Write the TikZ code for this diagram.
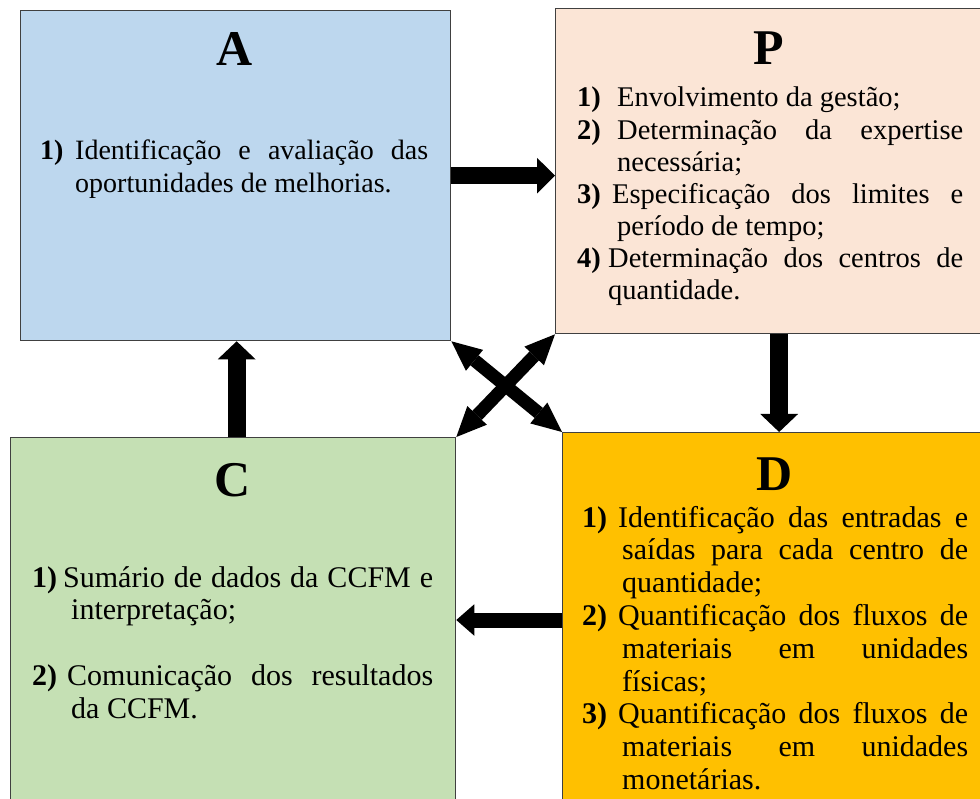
\documentclass[tikz,border=0pt]{standalone}
\usepackage{fontspec}
\setmainfont{Liberation Serif}
\usetikzlibrary{arrows.meta}

\definecolor{boxA}{HTML}{BDD7EE}
\definecolor{boxP}{HTML}{FBE5D6}
\definecolor{boxC}{HTML}{C5E0B4}
\definecolor{boxD}{HTML}{FFC000}
\definecolor{edge}{HTML}{404040}

% numbered entry: #1 hanging indent, #2 label box width, #3 label, #4 text
\newcommand\stepentry[4]{\hangindent=#1\hangafter=1\noindent\makebox[#2][l]{\textbf{#3}}#4\par}

\tikzset{
  phase/.style={draw=edge, line width=1.3pt, inner sep=0pt, anchor=north west},
  title/.style={anchor=base, font=\fontsize{50}{50}\selectfont\bfseries, inner sep=0pt},
  body/.style={anchor=base west, inner sep=0pt, align=justify},
  blockarrow/.style={line width=#1, -{Triangle[length=18pt,width=2.1*#1,line width=0pt]}},
  crossarrow/.style={line width=13pt,
    {Triangle[length=30pt,width=27pt,line width=0pt]}-{Triangle[length=30pt,width=27pt,line width=0pt]}},
}

\begin{document}
\begin{tikzpicture}[x=1pt, y=-1pt]
\useasboundingbox (0,0) rectangle (980,799);

% the four phase boxes
\node[phase, fill=boxA, minimum width=430pt, minimum height=330pt] (A) at (20,10) {};
\node[phase, fill=boxP, minimum width=435pt, minimum height=325pt] (P) at (555,8) {};
\node[phase, fill=boxC, minimum width=445pt, minimum height=380pt] (C) at (10,437) {};
\node[phase, fill=boxD, minimum width=428pt, minimum height=385pt] (D) at (562,432) {};

% titles
\node[title] (tA) at (235,66) {A};
\node[title] (tP) at (769,65) {P};
\node[title] (tC) at (233,496) {C};
\node[title] (tD) at (775,490) {D};

% box contents
\node[body, text width=388pt, font=\fontsize{28}{32.5}\selectfont] (xA) at (40,160) {%
  \stepentry{35pt}{35pt}{1)}{Identificação e avaliação das\linebreak oportunidades de melhorias.}};

\node[body, text width=386pt, font=\fontsize{28.5}{31.3}\selectfont] (xP) at (577,107) {%
  \setlength{\parskip}{1.5pt}%
  \stepentry{40pt}{40pt}{1)}{Envolvimento da gestão;}
  \stepentry{40pt}{40pt}{2)}{Determinação da expertise\linebreak necessária;}
  \stepentry{40pt}{35pt}{3)}{Especificação dos limites e\linebreak período de tempo;}
  \stepentry{31pt}{31pt}{4)}{Determinação dos centros de\linebreak quantidade.}};

\node[body, text width=401pt, font=\fontsize{30}{32.5}\selectfont] (xC) at (32,587) {%
  \stepentry{39pt}{31pt}{1)}{Sumário de dados da CCFM e\linebreak interpretação;}
  \vspace{33.5pt}
  \stepentry{39pt}{35pt}{2)}{Comunicação dos resultados\linebreak da CCFM.}};

\node[body, text width=386pt, font=\fontsize{30}{32.8}\selectfont] (xD) at (582,527) {%
  \stepentry{40pt}{36pt}{1)}{Identificação das entradas e\linebreak saídas para cada centro de\linebreak quantidade;}
  \stepentry{40pt}{36pt}{2)}{Quantificação dos fluxos de\linebreak materiais em unidades\linebreak físicas;}
  \stepentry{40pt}{36pt}{3)}{Quantificação dos fluxos de\linebreak materiais em unidades\linebreak monetárias.}};

% cycle arrows
\draw[blockarrow=17pt] (A.east) -- (A.east -| P.west);
\draw[blockarrow=18pt] ([xshift=6pt]P.south) -- ([xshift=6pt]P.south |- D.north);
\draw[blockarrow=15pt] (D.west |- 0,620) -- (C.east |- 0,620);
\draw[blockarrow=18pt] ([xshift=1pt]A.south |- C.north) -- ([xshift=1pt]A.south);

% diagonal exchange arrows
\draw[crossarrow] (A.south east) -- (D.north west);
\draw[crossarrow] (P.south west) -- (C.north east);
\end{tikzpicture}
\end{document}
